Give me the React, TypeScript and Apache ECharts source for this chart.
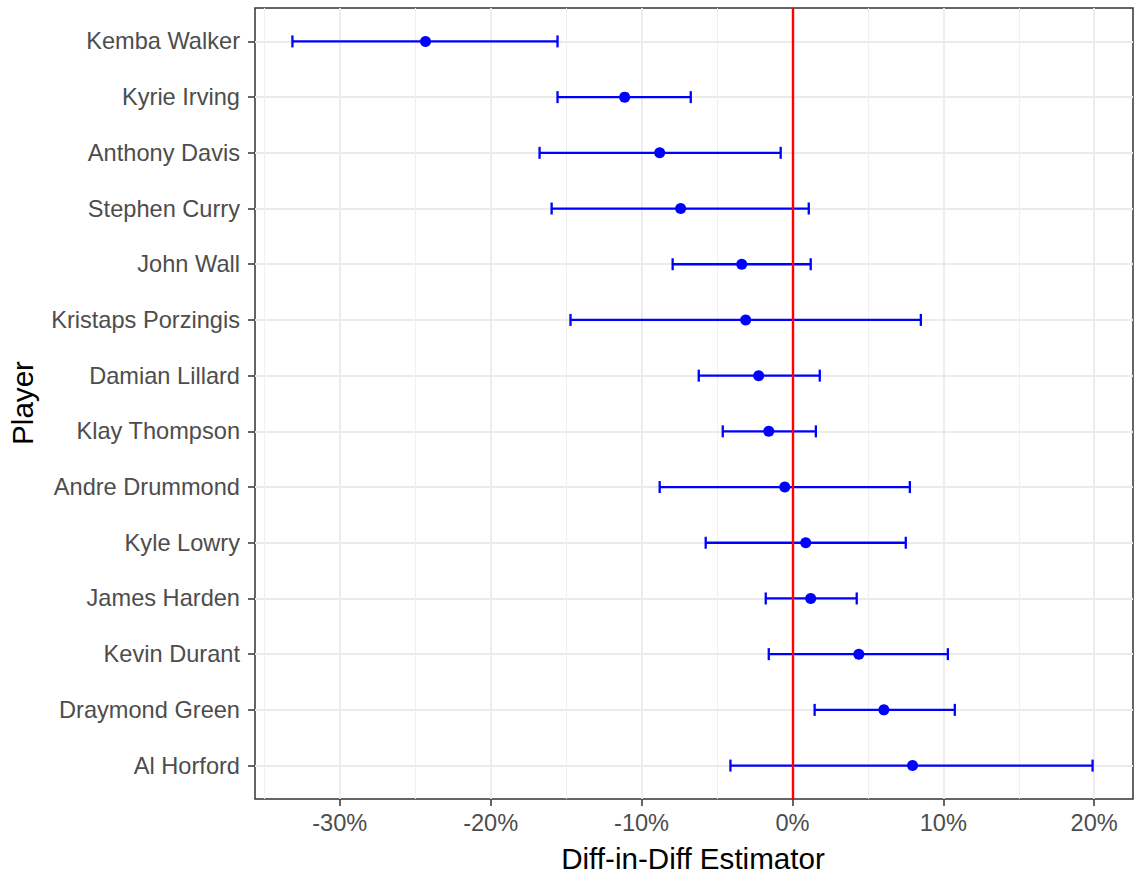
import React, { useEffect, useRef } from "react";
import * as echarts from "echarts";

const players = [
  "Kemba Walker",
  "Kyrie Irving",
  "Anthony Davis",
  "Stephen Curry",
  "John Wall",
  "Kristaps Porzingis",
  "Damian Lillard",
  "Klay Thompson",
  "Andre Drummond",
  "Kyle Lowry",
  "James Harden",
  "Kevin Durant",
  "Draymond Green",
  "Al Horford",
];
const estimates = [-24.32, -11.12, -8.8, -7.41, -3.36, -3.1, -2.24, -1.57, -0.51, 0.88, 1.21, 4.4, 6.06, 7.96];
const lower = [-33.14, -15.57, -16.76, -15.96, -7.94, -14.71, -6.21, -4.62, -8.8, -5.75, -1.77, -1.57, 1.47, -4.11];
const upper = [-15.57, -6.74, -0.78, 1.08, 1.21, 8.51, 1.81, 1.55, 7.78, 7.51, 4.26, 10.3, 10.76, 19.89];
const xTicks = [-30, -20, -10, 0, 10, 20];
const xMinor = [-35, -25, -15, -5, 5, 15];
const xTitle = "Diff-in-Diff Estimator";
const yTitle = "Player";

const FONT = "'Liberation Sans', Arial, sans-serif";

export default function App() {
  const ref = useRef<HTMLDivElement>(null);
  useEffect(() => {
    if (!ref.current) return;
    const chart = echarts.init(ref.current, null, { renderer: "svg" });
    const yIdx = players.map((_, i) => i);
    chart.setOption({
      animation: false,
      backgroundColor: "#FFFFFF",
      grid: {
        left: 255,
        right: 2,
        top: 8,
        bottom: 74,
        show: true,
        borderColor: "#333333",
        borderWidth: 1.5,
        backgroundColor: "transparent",
        containLabel: false,
      },
      xAxis: {
        type: "value",
        min: -35.62,
        max: 22.57,
        axisLine: { show: false, onZero: false },
        axisTick: { show: true, customValues: xTicks, length: 7, lineStyle: { color: "#333333", width: 1.5 } },
        axisLabel: {
          customValues: xTicks,
          formatter: (v: number) => `${v}%`,
          color: "#4D4D4D",
          fontSize: 23.6,
          fontFamily: FONT,
          margin: 12,
        },
        splitLine: { show: true, lineStyle: { color: "#EBEBEB", width: 1.8 } },
      },
      yAxis: {
        type: "value",
        inverse: true,
        min: -0.6,
        max: 13.6,
        axisLine: { show: false, onZero: false },
        axisTick: { show: true, customValues: yIdx, length: 7, lineStyle: { color: "#333333", width: 1.5 } },
        axisLabel: {
          customValues: yIdx,
          formatter: (v: number) => players[Math.round(v)] ?? "",
          color: "#4D4D4D",
          fontSize: 23.6,
          fontFamily: FONT,
          margin: 15,
        },
        splitLine: { show: true, lineStyle: { color: "#EBEBEB", width: 1.8 } },
      },
      graphic: [
        {
          type: "text",
          x: 693,
          y: 858,
          style: {
            text: xTitle,
            fontSize: 29.6,
            fontFamily: FONT,
            fill: "#000000",
            textAlign: "center",
            textVerticalAlign: "middle",
          },
        },
        {
          type: "text",
          x: 22,
          y: 403,
          rotation: Math.PI / 2,
          style: {
            text: yTitle,
            fontSize: 29.6,
            fontFamily: FONT,
            fill: "#000000",
            textAlign: "center",
            textVerticalAlign: "middle",
          },
        },
      ],
      series: [
        {
          type: "line",
          data: [],
          silent: true,
          z: 0,
          markLine: {
            z: 0,
            symbol: "none",
            silent: true,
            label: { show: false },
            lineStyle: { color: "#F0F0F0", width: 1, type: "solid" },
            data: xMinor.map((v) => ({ xAxis: v })),
          },
        },
        {
          type: "custom",
          data: players.map((_, i) => [lower[i], upper[i], i]),
          encode: { x: [0, 1], y: 2 },
          renderItem: (params: any, api: any) => {
            const lo = api.coord([api.value(0), api.value(2)]);
            const hi = api.coord([api.value(1), api.value(2)]);
            const h = 6;
            const style = { stroke: "#0000FF", lineWidth: 2.3 };
            return {
              type: "group",
              children: [
                { type: "line", shape: { x1: lo[0], y1: lo[1], x2: hi[0], y2: hi[1] }, style },
                { type: "line", shape: { x1: lo[0], y1: lo[1] - h, x2: lo[0], y2: lo[1] + h }, style },
                { type: "line", shape: { x1: hi[0], y1: hi[1] - h, x2: hi[0], y2: hi[1] + h }, style },
              ],
            };
          },
          z: 3,
        },
        {
          type: "line",
          data: [],
          silent: true,
          z: 4,
          markLine: {
            z: 4,
            symbol: "none",
            silent: true,
            label: { show: false },
            lineStyle: { color: "#FF0000", width: 2.4, type: "solid" },
            data: [{ xAxis: 0 }],
          },
        },
        {
          type: "scatter",
          data: players.map((_, i) => [estimates[i], i]),
          symbol: "circle",
          symbolSize: 11,
          itemStyle: { color: "#0000FF", opacity: 1 },
          z: 5,
        },
      ],
    });
    return () => chart.dispose();
  }, []);
  return (
    <div
      ref={ref}
      style={{ position: "fixed", left: 0, top: 0, width: 1135, height: 873 }}
    />
  );
}
